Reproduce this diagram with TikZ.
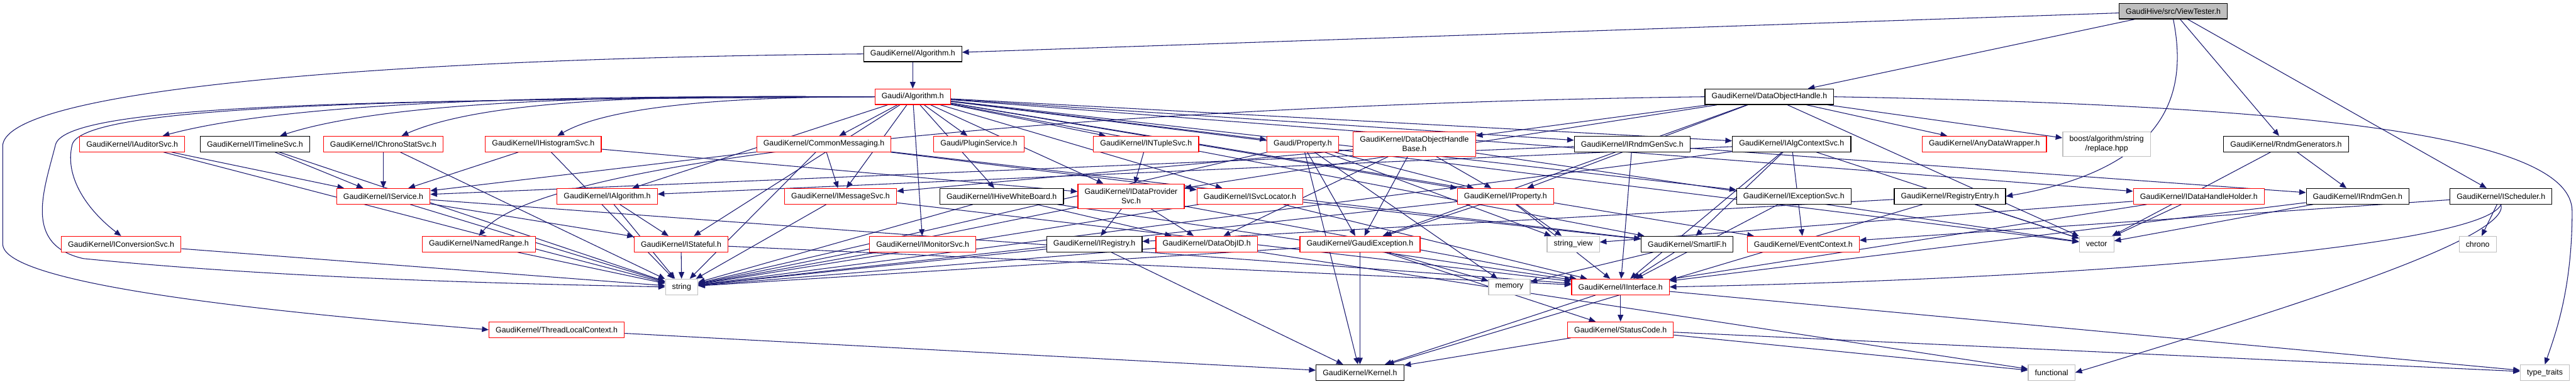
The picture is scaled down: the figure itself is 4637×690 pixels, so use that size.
\documentclass[tikz,border=0pt]{standalone}
\usepackage{fontspec}
\setmainfont{Liberation Sans}
\usetikzlibrary{arrows.meta,backgrounds}
\definecolor{edgeblue}{HTML}{191970}
\definecolor{extgray}{HTML}{BFBFBF}

\begin{document}
\begin{tikzpicture}[x=0.5pt, y=0.5pt,
  filebox/.style={draw=black, fill=white, line width=0.7pt, inner xsep=6pt, inner ysep=2pt, minimum height=14pt, font=\fontsize{7}{8.5}\selectfont, align=center},
  redbox/.style={filebox, draw=red},
  sysbox/.style={filebox, draw=extgray},
  rootbox/.style={filebox, fill=extgray},
  incl/.style={draw=edgeblue, line width=0.6pt, -{Triangle[length=6pt, width=5pt]}}]
	\useasboundingbox (0,0) rectangle (4637,-690);
	\node[rootbox] (vt) at (3912,-20) {GaudiHive/src/ViewTester.h};
	\node[filebox] (gkalg) at (1643,-97) {GaudiKernel/Algorithm.h};
	\node[redbox] (ga) at (1643,-174) {Gaudi/Algorithm.h};
	\node[filebox] (doh) at (3185,-174) {GaudiKernel/DataObjectHandle.h};
	\node[redbox] (iaud) at (238,-259) {GaudiKernel/IAuditorSvc.h};
	\node[filebox] (itl) at (459,-259) {GaudiKernel/ITimelineSvc.h};
	\node[redbox] (ichr) at (690,-259) {GaudiKernel/IChronoStatSvc.h};
	\node[redbox] (ihist) at (978,-259) {GaudiKernel/IHistogramSvc.h};
	\node[redbox] (cmsg) at (1483,-259) {GaudiKernel/CommonMessaging.h};
	\node[redbox] (plug) at (1762,-259) {Gaudi/PluginService.h};
	\node[redbox] (ntup) at (2063,-259) {GaudiKernel/INTupleSvc.h};
	\node[redbox] (prop) at (2345,-259) {Gaudi/Property.h};
	\node[redbox, minimum height=22pt] (dohb) at (2546,-259) {GaudiKernel/DataObjectHandle\\Base.h};
	\node[filebox] (irgs) at (2938,-259) {GaudiKernel/IRndmGenSvc.h};
	\node[filebox] (iacs) at (3225,-259) {GaudiKernel/IAlgContextSvc.h};
	\node[redbox] (adw) at (3572,-259) {GaudiKernel/AnyDataWrapper.h};
	\node[sysbox, minimum height=22pt] (boost) at (3792,-259) {boost/algorithm/string\\/replace.hpp};
	\node[filebox] (rmg) at (4115,-259) {GaudiKernel/RndmGenerators.h};
	\node[redbox] (isvc) at (690,-353) {GaudiKernel/IService.h};
	\node[redbox] (ialg) at (1093,-353) {GaudiKernel/IAlgorithm.h};
	\node[redbox] (imsg) at (1513,-353) {GaudiKernel/IMessageSvc.h};
	\node[filebox] (ihwb) at (1803,-353) {GaudiKernel/IHiveWhiteBoard.h};
	\node[redbox, minimum height=22pt] (idps) at (2036,-353) {GaudiKernel/IDataProvider\\Svc.h};
	\node[redbox] (isl) at (2250,-353) {GaudiKernel/ISvcLocator.h};
	\node[redbox] (iprop) at (2710,-353) {GaudiKernel/IProperty.h};
	\node[filebox] (iexc) at (3229,-353) {GaudiKernel/IExceptionSvc.h};
	\node[filebox] (reg) at (3510,-353) {GaudiKernel/RegistryEntry.h};
	\node[redbox] (idhh) at (3958,-353) {GaudiKernel/IDataHandleHolder.h};
	\node[filebox] (irg) at (4244,-353) {GaudiKernel/IRndmGen.h};
	\node[filebox] (isch) at (4502,-353) {GaudiKernel/IScheduler.h};
	\node[redbox] (icnv) at (218,-439) {GaudiKernel/IConversionSvc.h};
	\node[redbox] (nrange) at (862,-439) {GaudiKernel/NamedRange.h};
	\node[redbox] (istat) at (1226,-439) {GaudiKernel/IStateful.h};
	\node[redbox] (imon) at (1661,-439) {GaudiKernel/IMonitorSvc.h};
	\node[filebox] (ireg) at (1970,-439) {GaudiKernel/IRegistry.h};
	\node[redbox] (doid) at (2172,-439) {GaudiKernel/DataObjID.h};
	\node[redbox] (gexc) at (2448,-439) {GaudiKernel/GaudiException.h};
	\node[sysbox] (sview) at (2832,-439) {string\_view};
	\node[filebox] (smartif) at (3037,-439) {GaudiKernel/SmartIF.h};
	\node[redbox] (evctx) at (3246,-439) {GaudiKernel/EventContext.h};
	\node[sysbox] (vector) at (3774,-439) {vector};
	\node[sysbox] (chrono) at (4460,-439) {chrono};
	\node[sysbox] (string) at (1227,-516) {string};
	\node[sysbox] (memory) at (2717,-516) {memory};
	\node[redbox] (iint) at (2917,-516) {GaudiKernel/IInterface.h};
	\node[redbox] (tlc) at (1002,-593) {GaudiKernel/ThreadLocalContext.h};
	\node[redbox] (sc) at (2917,-593) {GaudiKernel/StatusCode.h};
	\node[filebox] (kernel) at (2448,-670) {GaudiKernel/Kernel.h};
	\node[sysbox] (functional) at (3693,-670) {functional};
	\node[sysbox] (ttraits) at (4581,-670) {type\_traits};
	\begin{pgfonlayer}{background}
	\fill[white] (0,0) rectangle (4637,-690);
	\foreach \s/\t in {vt/gkalg, vt/doh, vt/rmg, vt/isch, gkalg/ga} \draw[incl] (\s) -- (\t);
	\foreach \t in {cmsg, plug, ntup, prop, irgs, iacs, ialg, imsg, ihwb, idps, isl, iprop, iexc, istat, imon, evctx, smartif, idhh, vector} \draw[incl] (ga) -- (\t);
	\foreach \t/\a in {iaud/15, itl/18, ichr/24, ihist/30} \draw[incl] (ga) to[out=180, in=\a, looseness=0.6] (\t);
	\foreach \t in {dohb, adw, boost, idps, iprop, gexc, vector} \draw[incl] (doh) -- (\t);
	\foreach \s in {iaud, itl, ichr, ihist, cmsg, irgs} \draw[incl] (\s) -- (isvc);
	\foreach \s in {iaud, itl, ichr, ihist, isvc, icnv, nrange, ialg, istat, imsg, cmsg, imon, ihwb, idps, isl, ireg, doid, gexc, iprop, prop, iacs} \draw[incl] (\s) -- (string);
	\foreach \s/\t in {isvc/istat, ialg/istat, ihist/idps, ntup/idps, cmsg/imsg, cmsg/isl, dohb/imsg, iacs/ialg, prop/iprop, dohb/iprop, ihwb/doid, idps/doid, dohb/doid, idps/ireg, reg/ireg, iprop/gexc, prop/gexc, dohb/gexc, iprop/sview, prop/sview, idhh/sview, isl/smartif, cmsg/smartif, iacs/smartif, iacs/evctx, isch/evctx} \draw[incl] (\s) -- (\t);
	\foreach \s in {reg, idhh, irg, rmg, dohb, iacs} \draw[incl] (\s) -- (vector);
	\foreach \s/\t in {rmg/irg, irgs/irg, isch/chrono, smartif/memory, gexc/memory, prop/memory} \draw[incl] (\s) -- (\t);
	\foreach \s in {isvc, istat, imsg, ihwb, idps, isl, iprop, smartif, iexc, iacs, irgs, irg, idhh} \draw[incl] (\s) -- (iint);
	\foreach \s in {iint, gexc} \draw[incl] (\s) -- (sc);
	\foreach \s in {ireg, gexc, iint, sc, reg, tlc, prop} \draw[incl] (\s) -- (kernel);
	\foreach \s/\t in {sc/functional, doid/functional, iint/ttraits, sc/ttraits} \draw[incl] (\s) -- (\t);
	\draw[incl] (vt.south) .. controls (3935,-150) and (3920,-300) .. (reg.east);
	\draw[incl] (gkalg.west) .. controls (700,-105) and (20,-160) .. (5,-260) -- (5,-440) .. controls (10,-520) and (600,-570) .. (tlc.west);
	\draw[incl] (ga.west) .. controls (700,-178) and (150,-190) .. (130,-260) .. controls (115,-320) and (160,-380) .. (icnv.north);
	\draw[incl] (ga.west) .. controls (700,-180) and (120,-185) .. (100,-260) .. controls (80,-340) and (40,-440) .. (150,-465) .. controls (500,-500) and (900,-510) .. (string.west);
	\draw[incl] (doh.west) .. controls (2200,-185) and (1000,-260) .. (nrange.north);
	\draw[incl] (doh.east) .. controls (4200,-190) and (4630,-250) .. (4630,-380) .. controls (4630,-520) and (4600,-600) .. (ttraits.north);
	\draw[incl] (isch.south) .. controls (4520,-430) and (4100,-560) .. (functional.east);
	\draw[incl] (isch.south) .. controls (4470,-440) and (3800,-500) .. (iint.east);
	\end{pgfonlayer}
\end{tikzpicture}
\end{document}
